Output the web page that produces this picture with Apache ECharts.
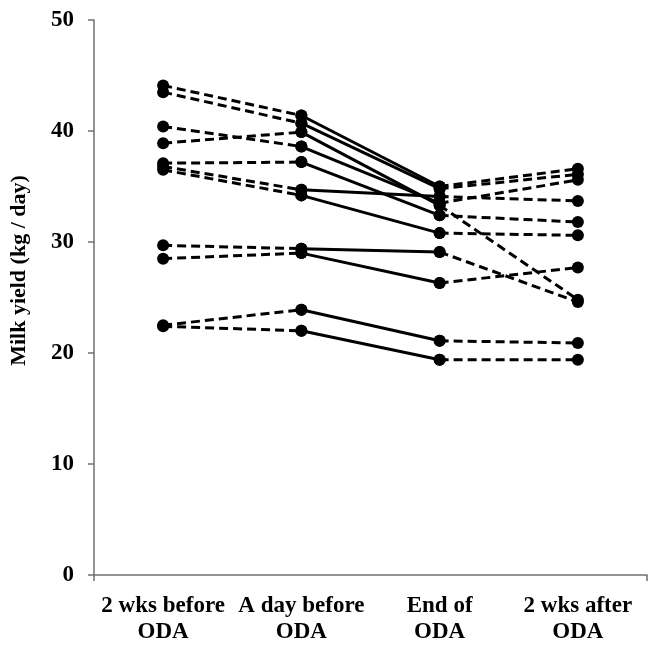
<!DOCTYPE html>
<html>
<head>
<meta charset="utf-8">
<script src="https://cdn.jsdelivr.net/npm/echarts@6/dist/echarts.min.js"></script>
<style>
  html, body { margin: 0; padding: 0; background: #ffffff; }
  #chart { width: 658px; height: 648px; }
</style>
</head>
<body>
<div id="chart"></div>
<script>
const timePoints = ["2 wks before\nODA", "A day before\nODA", "End of\nODA", "2 wks after\nODA"];

// one value per cow, same cow order in each array
const before2wk = [44.1, 43.5, 40.4, 38.9, 37.1, 36.8, 36.5, 29.7, 28.5, 22.5, 22.4];
const dayBefore = [41.4, 40.7, 38.6, 39.9, 37.2, 34.7, 34.2, 29.4, 29.0, 23.9, 22.0];
const endODA = [35.0, 34.8, 33.5, 33.3, 32.4, 34.1, 30.8, 29.1, 26.3, 21.1, 19.4];
const after2wk = [36.6, 36.1, 35.6, 24.8, 31.8, 33.7, 30.6, 24.6, 27.7, 20.9, 19.4];

const yTicks = [0, 10, 20, 30, 40, 50];

const font = "'Liberation Serif', 'Times New Roman', serif";

function segment(data, dashed) {
  return {
    type: "line",
    data: data,
    connectNulls: false,
    symbol: "circle",
    symbolSize: 12,
    showSymbol: true,
    itemStyle: { color: "#000" },
    lineStyle: { color: "#000", width: 3, type: dashed ? [9, 5] : "solid" },
    emphasis: { disabled: true },
    silent: true,
    animation: false,
  };
}

const series = [];
before2wk.forEach((v, i) => {
  series.push(segment([v, dayBefore[i], null, null], true));
  series.push(segment([null, dayBefore[i], endODA[i], null], false));
  series.push(segment([null, null, endODA[i], after2wk[i]], true));
});

const chart = echarts.init(document.getElementById("chart"));
chart.setOption({
  backgroundColor: "#ffffff",
  animation: false,
  grid: { left: 92, right: 11, top: 20, bottom: 73 },
  xAxis: [
    {
      type: "category",
      data: timePoints,
      boundaryGap: true,
      axisLine: { lineStyle: { color: "#707070", width: 1.5 } },
      axisTick: { alignWithLabel: true, length: 6, lineStyle: { color: "#707070", width: 1.5 } },
      axisLabel: {
        margin: 18,
        fontFamily: font,
        fontWeight: "bold",
        fontSize: 23,
        color: "#000",
        lineHeight: 26,
        interval: 0,
      },
    },
    {
      type: "category",
      data: ["", ""],
      boundaryGap: false,
      position: "bottom",
      axisLine: { show: false },
      axisTick: { length: 6, lineStyle: { color: "#707070", width: 1.5 } },
      axisLabel: { show: false },
    },
  ],
  yAxis: {
    type: "value",
    min: yTicks[0],
    max: yTicks[yTicks.length - 1],
    interval: 10,
    name: "Milk yield (kg / day)",
    nameLocation: "middle",
    nameGap: 64,
    nameTextStyle: {
      fontFamily: font,
      fontWeight: "bold",
      fontSize: 22,
      color: "#000",
      padding: [0, 0, 0, 54],
    },
    axisLine: { show: true, lineStyle: { color: "#707070", width: 1.5 } },
    axisTick: { show: true, length: 6, lineStyle: { color: "#707070", width: 1.5 } },
    splitLine: { show: false },
    axisLabel: {
      margin: 20,
      fontFamily: font,
      fontWeight: "bold",
      fontSize: 23,
      color: "#000",
    },
  },
  series: series,
});
</script>
</body>
</html>
